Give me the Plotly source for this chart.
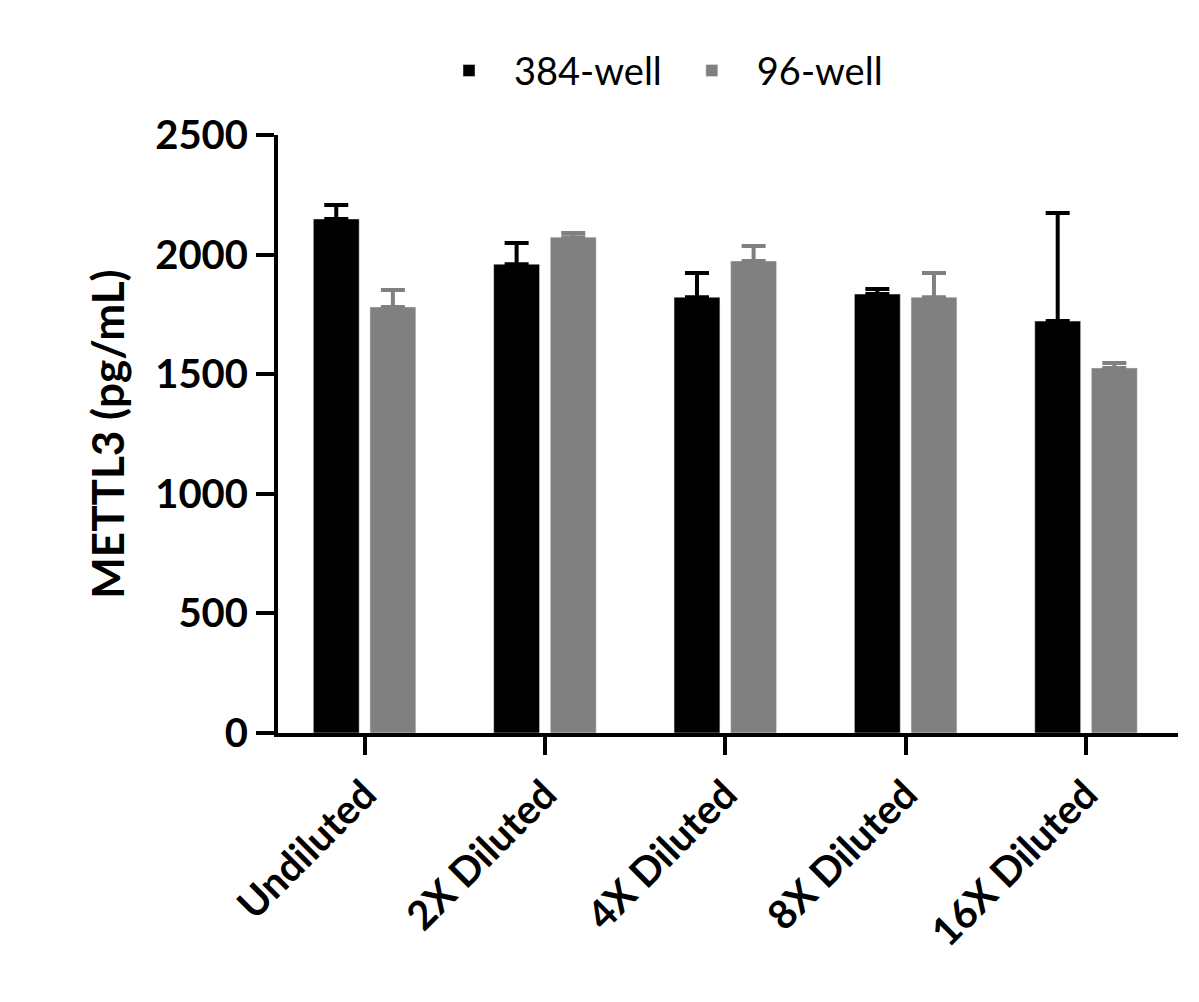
import plotly.graph_objects as go

categories = ["Undiluted", "2X Diluted", "4X Diluted", "8X Diluted", "16X Diluted"]
well384 = [2149, 1960, 1822, 1835, 1722]
well384_err = [58, 88, 101, 21, 452]
well96 = [1781, 2073, 1973, 1822, 1526]
well96_err = [71, 17, 63, 101, 21]

fig = go.Figure()
fig.add_bar(x=categories, y=well384, name="384-well", marker_color="black",
            error_y=dict(type="data", array=well384_err, arrayminus=[0]*5, symmetric=False,
                         color="black", thickness=4, width=12))
fig.add_bar(x=categories, y=well96, name="96-well", marker_color="#808080",
            error_y=dict(type="data", array=well96_err, arrayminus=[0]*5, symmetric=False,
                         color="#808080", thickness=4, width=12))

font = "Lato"
fig.update_layout(
    width=1199, height=1002, plot_bgcolor="white", paper_bgcolor="white",
    margin=dict(l=270, r=29, t=127, b=277),
    barmode="group", bargap=0.372, bargroupgap=0.19,
    font=dict(family=font, color="black"),
    legend=dict(orientation="h", x=0.42, xanchor="center", y=1.16, yanchor="top",
                font=dict(size=38, family="Lato"), itemwidth=80, traceorder="normal"),
    showlegend=True,
)
fig.update_yaxes(range=[0, 2500], tickvals=[0, 500, 1000, 1500, 2000, 2500],
                 showline=True, linewidth=4, linecolor="black", ticks="outside",
                 ticklen=18, tickwidth=4, tickcolor="black", showgrid=False, zeroline=False,
                 automargin=False,
                 tickfont=dict(size=40, family=font, weight="bold"),
                 title=dict(text="METTL3 (pg/mL)", font=dict(size=44, family=font, weight="bold"), standoff=18))
fig.update_xaxes(showline=True, linewidth=4, linecolor="black", ticks="outside",
                 ticklen=18, tickwidth=4, tickcolor="black", tickangle=-45, automargin=False,
                 tickfont=dict(size=40, family=font, weight="bold"), range=[-0.48, 4.51])
fig.write_html("out.html")
